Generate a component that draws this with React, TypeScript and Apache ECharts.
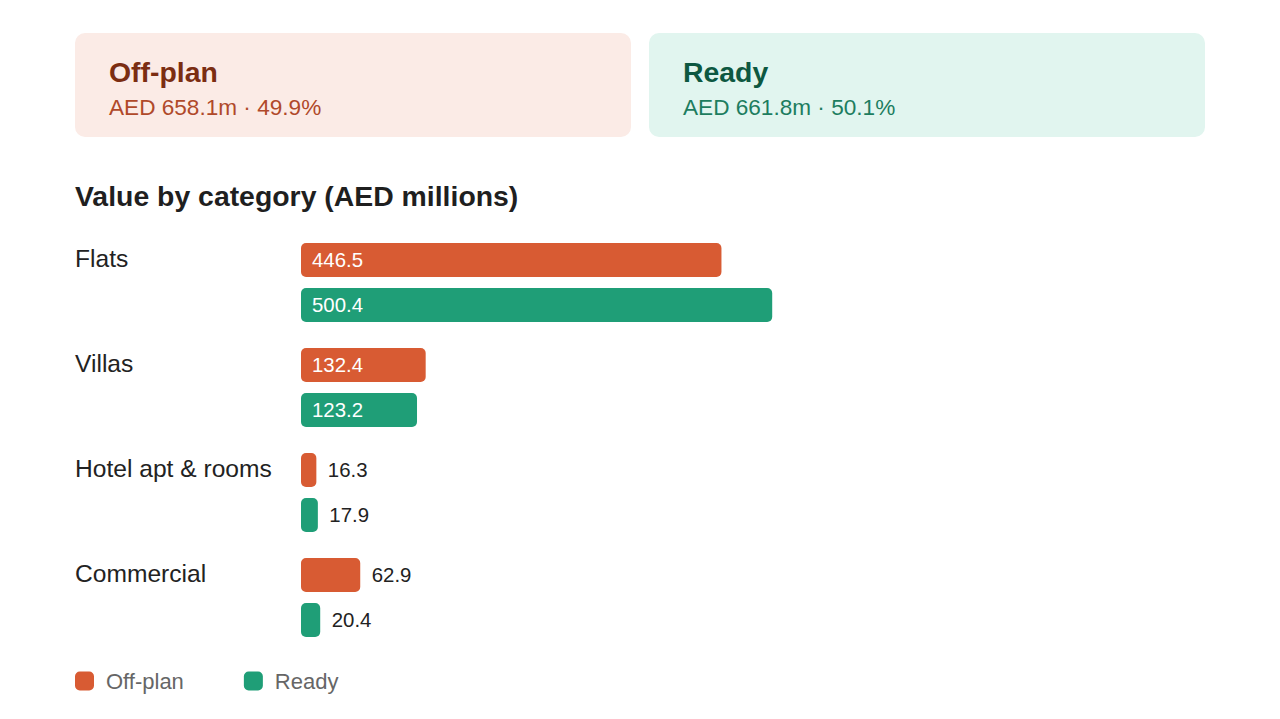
import React, { useEffect, useRef } from "react";
import * as echarts from "echarts";

const categories = ["Flats", "Villas", "Hotel apt & rooms", "Commercial"];
const offPlan = [446.5, 132.4, 16.3, 62.9];
const ready = [500.4, 123.2, 17.9, 20.4];
const seriesNames = ["Off-plan", "Ready"];
const cardTitles = ["Off-plan", "Ready"];
const cardSubs = ["AED 658.1m · 49.9%", "AED 661.8m · 50.1%"];
const chartTitle = "Value by category (AED millions)";

const ORANGE = "#D85B33";
const GREEN = "#1F9E77";
const FONT = "'Liberation Sans', Arial, Helvetica, sans-serif";
const INSIDE_THRESHOLD = 100;

function makeData(values: number[]) {
  return values.map((v) => {
    const inside = v >= INSIDE_THRESHOLD;
    return {
      value: v,
      label: inside
        ? { position: "insideLeft", distance: 11, color: "#ffffff" }
        : { position: "right", distance: 11.5, color: "#222222" },
    };
  });
}

export default function App() {
  const ref = useRef<HTMLDivElement>(null);
  useEffect(() => {
    if (!ref.current) return;
    const chart = echarts.init(ref.current, null, { renderer: "svg" });
    const labelCommon = {
      show: true,
      fontSize: 20.4,
      fontFamily: FONT,
      formatter: (p: any) => Number(p.value).toFixed(1),
    };
    chart.setOption({
      animation: false,
      backgroundColor: "#ffffff",
      textStyle: { fontFamily: FONT },
      title: {
        text: chartTitle,
        left: 75,
        top: 180,
        padding: 0,
        textStyle: {
          fontSize: 28.4,
          fontWeight: "bold",
          color: "#1f1f1f",
          fontFamily: FONT,
          lineHeight: 32,
        },
      },
      graphic: [
        {
          type: "rect",
          shape: { x: 75, y: 33, width: 556, height: 104, r: 10 },
          style: { fill: "#FBEBE6" },
          silent: true,
        },
        {
          type: "rect",
          shape: { x: 649, y: 33, width: 556, height: 104, r: 10 },
          style: { fill: "#E1F5EF" },
          silent: true,
        },
        {
          type: "text",
          x: 109,
          y: 72,
          style: {
            text: cardTitles[0],
            fill: "#7B2D12",
            font: `bold 28.4px ${FONT}`,
            verticalAlign: "middle",
          },
        },
        {
          type: "text",
          x: 109,
          y: 107,
          style: {
            text: cardSubs[0],
            fill: "#B0492A",
            font: `22.6px ${FONT}`,
            verticalAlign: "middle",
          },
        },
        {
          type: "text",
          x: 683,
          y: 72,
          style: {
            text: cardTitles[1],
            fill: "#0D5841",
            font: `bold 28.4px ${FONT}`,
            verticalAlign: "middle",
          },
        },
        {
          type: "text",
          x: 683,
          y: 107,
          style: {
            text: cardSubs[1],
            fill: "#1D7D5F",
            font: `22.6px ${FONT}`,
            verticalAlign: "middle",
          },
        },
      ],
      legend: {
        data: seriesNames,
        left: 75,
        top: 670,
        padding: 0,
        icon: "roundRect",
        itemWidth: 19,
        itemHeight: 19,
        itemGap: 60,
        textStyle: {
          fontSize: 22,
          color: "#666666",
          fontFamily: FONT,
          padding: [0, 0, 0, 7],
        },
      },
      grid: { left: 301, top: 230, width: 904, height: 420, containLabel: false },
      xAxis: {
        type: "value",
        min: 0,
        max: 960,
        show: false,
      },
      yAxis: {
        type: "category",
        data: categories,
        inverse: true,
        axisLine: { show: false },
        axisTick: { show: false },
        splitLine: { show: false },
        axisLabel: {
          align: "left",
          margin: 226,
          fontSize: 24.6,
          color: "#222222",
          fontFamily: FONT,
          verticalAlign: "middle",
          lineHeight: 49,
          formatter: (v: string) => v + "\n ",
        },
      },
      series: [
        {
          name: seriesNames[0],
          type: "bar",
          data: makeData(offPlan),
          barWidth: 34,
          barGap: "32%",
          itemStyle: { color: ORANGE, borderRadius: 5 },
          label: labelCommon,
        },
        {
          name: seriesNames[1],
          type: "bar",
          data: makeData(ready),
          barWidth: 34,
          barGap: "32%",
          itemStyle: { color: GREEN, borderRadius: 5 },
          label: labelCommon,
        },
      ],
    });
    return () => chart.dispose();
  }, []);
  return (
    <div
      ref={ref}
      style={{ position: "fixed", left: 0, top: 0, width: 1280, height: 719 }}
    />
  );
}
